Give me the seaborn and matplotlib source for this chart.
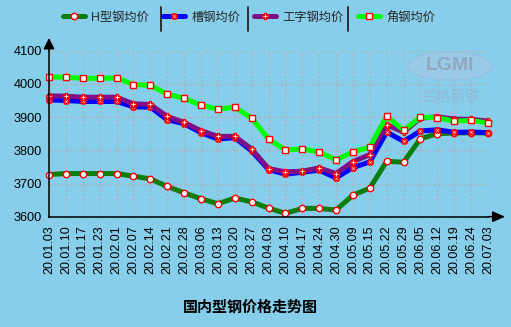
import matplotlib
matplotlib.use("Agg")
import matplotlib.pyplot as plt
from matplotlib.lines import Line2D
from matplotlib.patches import Ellipse
import seaborn as sns
import numpy as np

# ---- data ----
dates = ["20.01.03", "20.01.10", "20.01.17", "20.01.23", "20.02.01", "20.02.07",
         "20.02.14", "20.02.21", "20.02.28", "20.03.06", "20.03.13", "20.03.20",
         "20.03.27", "20.04.03", "20.04.10", "20.04.17", "20.04.24", "20.04.30",
         "20.05.09", "20.05.15", "20.05.22", "20.05.29", "20.06.05", "20.06.12",
         "20.06.19", "20.06.24", "20.07.03"]
h_beam = [3727, 3730, 3730, 3730, 3730, 3722, 3714, 3691, 3672, 3654, 3639, 3656,
          3645, 3626, 3610, 3625, 3625, 3620, 3665, 3686, 3767, 3764, 3835, 3850,
          3852, 3853, 3852]
channel = [3952, 3950, 3947, 3947, 3947, 3931, 3930, 3892, 3880, 3853, 3834, 3838,
           3798, 3742, 3728, 3734, 3740, 3717, 3748, 3765, 3855, 3827, 3858, 3862,
           3854, 3855, 3853]
i_beam = [3964, 3963, 3960, 3960, 3960, 3940, 3938, 3902, 3884, 3859, 3842, 3842,
          3804, 3745, 3735, 3737, 3747, 3730, 3766, 3787, 3877, 3855, 3897, 3901,
          3894, 3893, 3888]
angle = [4021, 4020, 4017, 4017, 4018, 3998, 3996, 3969, 3957, 3936, 3924, 3930,
         3897, 3834, 3801, 3804, 3795, 3771, 3795, 3810, 3903, 3860, 3900, 3898,
         3888, 3890, 3882]
series_names = ["H型钢均价", "槽钢均价", "工字钢均价", "角钢均价"]
y_ticks = [3600, 3700, 3800, 3900, 4000, 4100]
title = "国内型钢价格走势图"

BG = "#87CEEB"
sns.set_theme(style="white")
plt.rcParams["font.family"] = ["Liberation Sans", "Noto Sans CJK SC", "DejaVu Sans"]
plt.rcParams["axes.unicode_minus"] = False

W, H = 511, 327
fig = plt.figure(figsize=(W / 100, H / 100), dpi=100, facecolor=BG)
L, R, T, B = 49, 488, 50.7, 216.7
ax = fig.add_axes([L / W, 1 - B / H, (R - L) / W, (B - T) / H])
ax.set_facecolor(BG)

# watermark (behind data)
fig.add_artist(Ellipse((450 / W, 1 - 66 / H), 84 / W, 28 / H,
                       transform=fig.transFigure, facecolor="#a9c8e6",
                       edgecolor="#9fb4d8", alpha=0.55, lw=1.0, zorder=0.5))
fig.text(450 / W, 1 - 66 / H, "LGMI", fontsize=14, fontweight="bold",
         color="#8a8f9a", alpha=0.55, ha="center", va="center", zorder=0.6)
fig.text(450 / W, 1 - 97 / H, "兰格钢铁", fontsize=10.5,
         color="#9aa6c8", alpha=0.5, ha="center", va="center", zorder=0.6,
         family=["Noto Sans CJK SC", "DejaVu Sans"])
ax.patch.set_alpha(0.0)

x = np.arange(len(dates))
styles = [
    (h_beam, "#0b7d0b", "o", 4.6),
    (channel, "#0000ff", "X", 4.3),
    (i_beam, "#7f0f86", "P", 4.3),
    (angle, "#00ff00", "s", 4.8),
]
for (vals, col, mk, ms), name in zip(styles, series_names):
    sns.lineplot(x=x, y=vals, ax=ax, color=col, linewidth=3.6, marker=mk,
                 markersize=ms, markerfacecolor="white", markeredgecolor="red",
                 markeredgewidth=1.0, label=name, clip_on=False, legend=False,
                 solid_joinstyle="round", solid_capstyle="round")

ax.set_xlim(0, len(dates) - 1)
ax.set_ylim(y_ticks[0], y_ticks[-1])
ax.set_yticks(y_ticks)
ax.set_xticks(x)
ax.set_xticklabels(dates, rotation=90, fontsize=9, color="black")
ax.set_yticklabels([str(v) for v in y_ticks], fontsize=9.2, color="#111111")
ax.tick_params(axis="x", direction="out", length=4, width=1, pad=2.5, colors="black")
ax.tick_params(axis="y", direction="inout", length=7, width=1, pad=1.5, colors="black")
for lab in ax.get_xticklabels() + ax.get_yticklabels():
    lab.set_color("black")
ax.set_xlabel("")
ax.set_ylabel("")

ax.grid(True, linestyle=(0, (1, 2.5)), color="#d09c90", linewidth=0.9)
ax.set_axisbelow(True)
for s in ["top", "right"]:
    ax.spines[s].set_visible(False)
for s in ["left", "bottom"]:
    ax.spines[s].set_color("black")
    ax.spines[s].set_linewidth(1.1)
    ax.spines[s].set_zorder(5)

aw, ah = R - L, B - T
ax.annotate("", xy=(0, 1 + 12.7 / ah), xytext=(0, 1), xycoords="axes fraction",
            arrowprops=dict(arrowstyle="-|>,head_length=0.65,head_width=0.33",
                            color="black", lw=1.1, shrinkA=0, shrinkB=0,
                            mutation_scale=10), annotation_clip=False)
ax.annotate("", xy=(1 + 17 / aw, 0), xytext=(1, 0), xycoords="axes fraction",
            arrowprops=dict(arrowstyle="-|>,head_length=0.75,head_width=0.33",
                            color="black", lw=1.1, shrinkA=0, shrinkB=0,
                            mutation_scale=10), annotation_clip=False)

# legend
handles, labels = ax.get_legend_handles_labels()
leg = fig.legend(handles, labels, loc="center", ncol=4,
                 bbox_to_anchor=(249 / W, 1 - 17.5 / H), frameon=False,
                 prop={"family": ["Liberation Sans", "Noto Sans CJK SC"], "size": 8.8},
                 handlelength=1.8, handletextpad=0.5, columnspacing=1.15,
                 borderpad=0, borderaxespad=0)
for sx in [161, 248, 348]:
    fig.add_artist(Line2D([sx / W, sx / W], [1 - 7 / H, 1 - 31 / H],
                          transform=fig.transFigure, color="#222222", lw=1.3))

fig.text(250 / W, 1 - 307 / H, title, fontsize=10.8, fontweight="bold",
         ha="center", va="center", color="black",
         family=["Noto Sans CJK SC", "DejaVu Sans"])

fig.savefig("out.png", dpi=100, facecolor=BG)
